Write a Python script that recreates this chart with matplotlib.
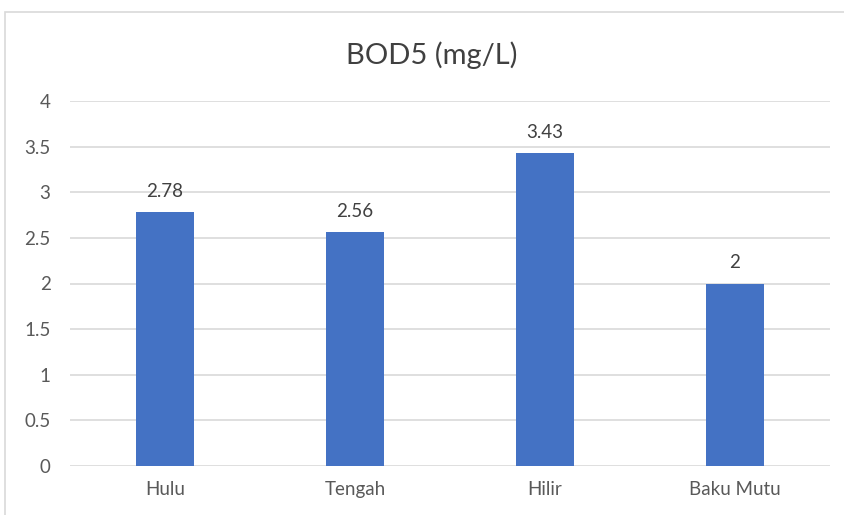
import matplotlib.pyplot as plt
from matplotlib.patches import Rectangle

categories = ["Hulu", "Tengah", "Hilir", "Baku Mutu"]
bod5 = [2.78, 2.56, 3.43, 2]
y_ticks = [0, 0.5, 1, 1.5, 2, 2.5, 3, 3.5, 4]
y_tick_labels = ["0", "0.5", "1", "1.5", "2", "2.5", "3", "3.5", "4"]

BAR_COLOR = "#4472C4"
TEXT_COLOR = "#595959"
GRID_COLOR = "#D9D9D9"

plt.rcParams["font.family"] = ["Lato", "DejaVu Sans"]

W, H = 844, 515
fig = plt.figure(figsize=(W / 100, H / 100), dpi=100)

# chart frame, running off the right and bottom edges
fig.patches.append(Rectangle((5 / W, -0.1), 1.2, 1 - 12 / H + 0.1,
                             transform=fig.transFigure, fill=False,
                             edgecolor=GRID_COLOR, linewidth=1.2))

ax = fig.add_axes([70 / W, 49 / H, 760 / W, 365 / H])
x = range(len(categories))
ax.bar(x, bod5, width=0.31, color=BAR_COLOR, zorder=3)

for xi, v in zip(x, bod5):
    ax.annotate(f"{v:g}", (xi, v), xytext=(0, 9), textcoords="offset points",
                ha="center", va="bottom", fontsize=13.5, color="#404040")

ax.set_xlim(-0.5, len(categories) - 0.5)
ax.set_ylim(0, 4)
ax.set_yticks(y_ticks)
ax.set_yticklabels(y_tick_labels)
ax.set_xticks(list(x))
ax.set_xticklabels(categories)
ax.tick_params(axis="both", length=0, labelsize=13.5, colors=TEXT_COLOR)
ax.tick_params(axis="y", pad=14)
ax.tick_params(axis="x", pad=11)
ax.grid(axis="y", color=GRID_COLOR, linewidth=1.2, zorder=0)
for s in ax.spines.values():
    s.set_visible(False)

fig.text(432 / W, 1 - 55 / H, "BOD5 (mg/L)", ha="center", va="center",
         fontsize=21, color="#404040")

fig.savefig("out.png", dpi=100)
